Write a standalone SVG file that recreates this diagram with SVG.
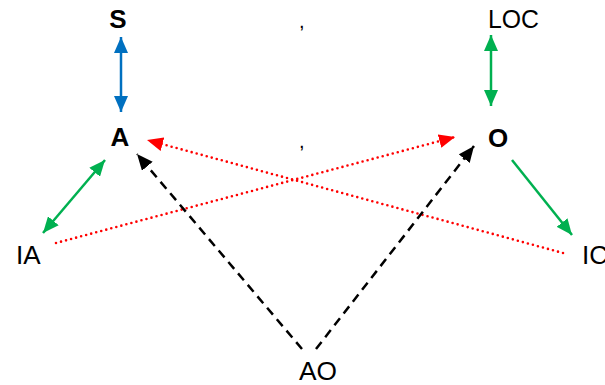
<svg xmlns="http://www.w3.org/2000/svg" width="605" height="385" viewBox="0 0 605 385">
<style>
.t{font-family:"Liberation Sans","Open Sans",sans-serif;font-size:26px;fill:#000}
.b{font-weight:bold}
.blue{stroke:#0070C0;stroke-width:2.5;fill:none}
.green{stroke:#00B050;stroke-width:2.5;fill:none}
.red{stroke:#FF0000;stroke-width:2.6;fill:none;stroke-dasharray:0 5.2;stroke-linecap:round}
.black{stroke:#000;stroke-width:2.5;fill:none;stroke-dasharray:9 6}
</style>
<defs>
<marker id="mb" viewBox="0 0 16 14" refX="16" refY="7" markerWidth="16" markerHeight="14" markerUnits="userSpaceOnUse" orient="auto-start-reverse"><path d="M0,0 L16,7 L0,14 z" fill="#0070C0"/></marker>
<marker id="mg" viewBox="0 0 16 14" refX="16" refY="7" markerWidth="16" markerHeight="14" markerUnits="userSpaceOnUse" orient="auto-start-reverse"><path d="M0,0 L16,7 L0,14 z" fill="#00B050"/></marker>
<marker id="mr" viewBox="0 0 16 14" refX="16" refY="7" markerWidth="16" markerHeight="14" markerUnits="userSpaceOnUse" orient="auto"><path d="M0,0 L16,7 L0,14 z" fill="#FF0000"/></marker>
<marker id="mk" viewBox="0 0 16 14" refX="16" refY="7" markerWidth="16" markerHeight="14" markerUnits="userSpaceOnUse" orient="auto"><path d="M0,0 L16,7 L0,14 z" fill="#000"/></marker>
</defs>
<g id="connectors">
<line class="blue" x1="121" y1="37" x2="121" y2="112" marker-start="url(#mb)" marker-end="url(#mb)"/>
<line class="green" x1="491" y1="35" x2="491" y2="106" marker-start="url(#mg)" marker-end="url(#mg)"/>
<line class="green" x1="43" y1="233" x2="105" y2="160" marker-start="url(#mg)" marker-end="url(#mg)"/>
<line class="green" x1="512" y1="160" x2="572" y2="235" marker-end="url(#mg)"/>
<line class="red" x1="56" y1="243" x2="455" y2="137" marker-end="url(#mr)"/>
<line class="red" x1="563" y1="253" x2="147" y2="140" marker-end="url(#mr)"/>
<line class="black" x1="302" y1="349" x2="137" y2="154" marker-end="url(#mk)"/>
<line class="black" x1="316" y1="349" x2="474" y2="146" marker-end="url(#mk)"/>
</g>
<g id="S"><text class="t b" x="118" y="28" text-anchor="middle">S</text></g>
<g id="A"><text class="t b" x="120" y="146" text-anchor="middle">A</text></g>
<g id="LOC"><text class="t" x="488" y="28" textLength="51" lengthAdjust="spacingAndGlyphs">LOC</text></g>
<g id="O"><text class="t b" x="498" y="147" text-anchor="middle">O</text></g>
<g id="IA"><text class="t" x="16" y="264">IA</text></g>
<g id="IC"><text class="t" x="582" y="264">IC</text></g>
<g id="AO"><text class="t" x="299" y="380" textLength="38" lengthAdjust="spacingAndGlyphs">AO</text></g>
<g id="marks">
<text class="t" x="299" y="28" style="font-size:20px">,</text>
<text class="t" x="299" y="148" style="font-size:20px">,</text>
</g>
</svg>
